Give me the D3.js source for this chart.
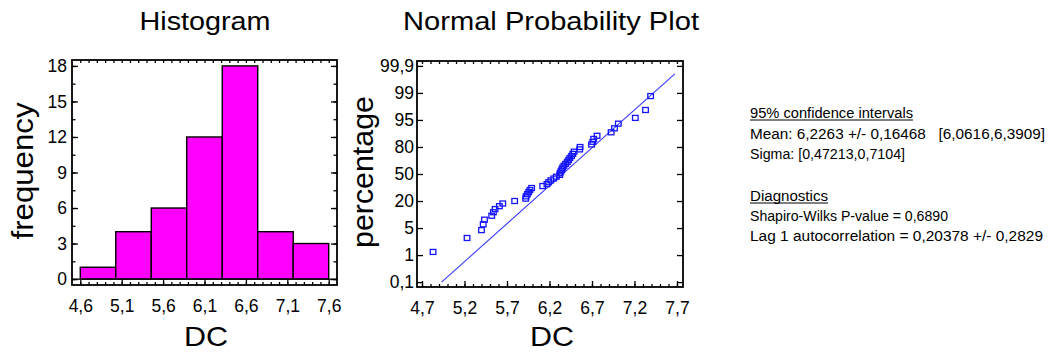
<!DOCTYPE html>
<html><head><meta charset="utf-8">
<script src="https://cdn.jsdelivr.net/npm/d3@7"></script>
<style>
body{margin:0;background:#fff}
svg{display:block}
text{font-family:"Liberation Sans",Arial,sans-serif;fill:#000}
</style>
</head><body>
<svg id="c" width="1049" height="355"></svg>
<script>
// ---------------- DATA ----------------
const binEdges   = [4.6, 5.0286, 5.4571, 5.8857, 6.3143, 6.7429, 7.1714, 7.6];
const binCounts  = [1, 4, 6, 12, 18, 4, 3];
const histXTicks = [4.6, 5.1, 5.6, 6.1, 6.6, 7.1, 7.6];
const histYTicks = [0, 3, 6, 9, 12, 15, 18];

const dcSorted = [4.83, 5.23, 5.40, 5.42, 5.435, 5.52, 5.54, 5.56, 5.61, 5.65, 5.79, 5.92,
  5.925, 5.94, 5.955, 5.97, 5.99, 6.12, 6.17, 6.19, 6.215, 6.25, 6.28, 6.32,
  6.325, 6.335, 6.345, 6.355, 6.37, 6.39, 6.41, 6.425, 6.44, 6.46, 6.475, 6.49,
  6.555, 6.56, 6.695, 6.71, 6.72, 6.76, 6.925, 6.965, 7.01, 7.21, 7.33, 7.39];
const plotPct = [1.295, 3.368, 5.440, 7.513, 9.585, 11.658, 13.731, 15.803, 17.876, 19.948, 22.021, 24.093,
  26.166, 28.238, 30.311, 32.383, 34.456, 36.528, 38.601, 40.674, 42.746, 44.819, 46.891, 48.964,
  51.036, 53.109, 55.181, 57.254, 59.326, 61.399, 63.472, 65.544, 67.617, 69.689, 71.762, 73.834,
  75.907, 77.979, 80.052, 82.124, 84.197, 86.269, 88.342, 90.415, 92.487, 94.560, 96.632, 98.705];
const fitLineDC  = [4.93, 7.675];
const fitLinePct = [0.1, 99.79];
const probXTicks = [4.7, 5.2, 5.7, 6.2, 6.7, 7.2, 7.7];
const probYTicks = [0.1, 1, 5, 20, 50, 80, 95, 99, 99.9];

const statLines = ["95% confidence intervals",
  "Mean: 6,2263 +/- 0,16468   [6,0616,6,3909]",
  "Sigma: [0,47213,0,7104]",
  "Diagnostics",
  "Shapiro-Wilks P-value = 0,6890",
  "Lag 1 autocorrelation = 0,20378 +/- 0,2829"];
const statUnderlined = [true, false, false, true, false, false];

// ---------------- HELPERS ----------------
function probit(p){
  const a=[-3.969683028665376e+01,2.209460984245205e+02,-2.759285104469687e+02,1.383577518672690e+02,-3.066479806614716e+01,2.506628277459239e+00];
  const b=[-5.447609879822406e+01,1.615858368580409e+02,-1.556989798598866e+02,6.680131188771972e+01,-1.328068155288572e+01];
  const c=[-7.784894002430293e-03,-3.223964580411365e-01,-2.400758277161838e+00,-2.549732539343734e+00,4.374664141464968e+00,2.938163982698783e+00];
  const d=[7.784695709041462e-03,3.224671290700398e-01,2.445134137142996e+00,3.754408661907416e+00];
  const pl=0.02425, ph=1-pl; let q,r;
  if(p<pl){q=Math.sqrt(-2*Math.log(p));return (((((c[0]*q+c[1])*q+c[2])*q+c[3])*q+c[4])*q+c[5])/((((d[0]*q+d[1])*q+d[2])*q+d[3])*q+1);}
  if(p<=ph){q=p-0.5;r=q*q;return (((((a[0]*r+a[1])*r+a[2])*r+a[3])*r+a[4])*r+a[5])*q/(((((b[0]*r+b[1])*r+b[2])*r+b[3])*r+b[4])*r+1);}
  q=Math.sqrt(-2*Math.log(1-p));return -(((((c[0]*q+c[1])*q+c[2])*q+c[3])*q+c[4])*q+c[5])/((((d[0]*q+d[1])*q+d[2])*q+d[3])*q+1);
}
const comma = v => String(v).replace('.', ',');
const fmt1 = v => v.toFixed(1).replace('.', ',');
const FONT = '"Liberation Sans",Arial,sans-serif';

const svg = d3.select('#c');

function styleAxis(g){
  g.attr('font-family', FONT).attr('font-size', 17.5);
  g.select('.domain').remove();
  g.selectAll('line').attr('stroke', '#000').attr('stroke-width', 1.3);
  g.selectAll('text').attr('fill', '#000');
}

// ---------------- HISTOGRAM ----------------
const H = {l:72, r:337, t:60, b:285};
const xH = d3.scaleLinear().domain([4.5, 7.7]).range([H.l, H.r]);
const yH = d3.scaleLinear().domain([-0.5, 18.5]).range([H.b, H.t]);

svg.append('g').selectAll('rect').data(binCounts).join('rect')
  .attr('x', (d,i) => xH(binEdges[i]))
  .attr('width', (d,i) => xH(binEdges[i+1]) - xH(binEdges[i]))
  .attr('y', d => yH(d))
  .attr('height', d => yH(0) - yH(d))
  .attr('fill', '#ff00ff').attr('stroke', '#000').attr('stroke-width', 1.4);

svg.append('line').attr('x1', H.l).attr('x2', H.r).attr('y1', yH(0)).attr('y2', yH(0))
  .attr('stroke', '#000').attr('stroke-width', 1.4);

const histMinorX = d3.range(46, 77).map(v => v/10);
const histMinorY = d3.range(0, 13).map(v => v*1.5);

svg.append('g').attr('transform', `translate(0,${H.b})`)
  .call(d3.axisBottom(xH).tickValues(histXTicks).tickSize(-6).tickPadding(15).tickFormat(fmt1)).call(styleAxis);
svg.append('g').attr('transform', `translate(0,${H.b})`)
  .call(d3.axisBottom(xH).tickValues(histMinorX).tickSize(-3).tickFormat('')).call(styleAxis);
svg.append('g').attr('transform', `translate(0,${H.t})`)
  .call(d3.axisTop(xH).tickValues(histMinorX).tickSize(-3).tickFormat('')).call(styleAxis);
svg.append('g').attr('transform', `translate(${H.l},0)`)
  .call(d3.axisLeft(yH).tickValues(histYTicks).tickSize(-6).tickPadding(5)).call(styleAxis);
svg.append('g').attr('transform', `translate(${H.l},0)`)
  .call(d3.axisLeft(yH).tickValues(histMinorY).tickSize(-3.5).tickFormat('')).call(styleAxis);
svg.append('g').attr('transform', `translate(${H.r},0)`)
  .call(d3.axisRight(yH).tickValues(histYTicks).tickSize(-6).tickFormat('')).call(styleAxis);
svg.append('g').attr('transform', `translate(${H.r},0)`)
  .call(d3.axisRight(yH).tickValues(histMinorY).tickSize(-3.5).tickFormat('')).call(styleAxis);

svg.append('rect').attr('x', H.l).attr('y', H.t).attr('width', H.r-H.l).attr('height', H.b-H.t)
  .attr('fill', 'none').attr('stroke', '#000').attr('stroke-width', 1.8);

// ---------------- NORMAL PROBABILITY PLOT ----------------
const P = {l:417, r:683, t:61, b:287};
const xP = d3.scaleLinear().domain([4.641, 7.771]).range([P.l, P.r]);
const yZ = d3.scaleLinear().domain([-3.23, 3.23]).range([P.b, P.t]);
const yP = pct => yZ(probit(pct/100));
const yTickScale = d3.scalePoint().domain(probYTicks).range([yP(probYTicks[0]), yP(probYTicks[probYTicks.length-1])]);

const probMinorX = d3.range(47, 78).map(v => v/10);

svg.append('g').attr('transform', `translate(0,${P.b})`)
  .call(d3.axisBottom(xP).tickValues(probXTicks).tickSize(-6).tickPadding(15).tickFormat(fmt1)).call(styleAxis);
svg.append('g').attr('transform', `translate(0,${P.b})`)
  .call(d3.axisBottom(xP).tickValues(probMinorX).tickSize(-3).tickFormat('')).call(styleAxis);
svg.append('g').attr('transform', `translate(0,${P.t})`)
  .call(d3.axisTop(xP).tickValues(probMinorX).tickSize(-3).tickFormat('')).call(styleAxis);
svg.append('g').attr('transform', `translate(${P.l},0)`)
  .call(d3.axisLeft(yTickScale).tickSize(-6).tickPadding(3).tickFormat(comma)).call(styleAxis);
svg.append('g').attr('transform', `translate(${P.r},0)`)
  .call(d3.axisRight(yTickScale).tickSize(-6).tickFormat('')).call(styleAxis);

svg.append('path')
  .datum(fitLineDC.map((d,i) => [d, fitLinePct[i]]))
  .attr('d', d3.line().x(d => xP(d[0])).y(d => yP(d[1])))
  .attr('fill', 'none').attr('stroke', '#3a3aff').attr('stroke-width', 1.1);

svg.append('g').selectAll('rect').data(dcSorted).join('rect')
  .attr('x', d => xP(d) - 2.8)
  .attr('y', (d,i) => yP(plotPct[i]) - 2.5)
  .attr('width', 5.6).attr('height', 5)
  .attr('fill', 'none').attr('stroke', '#1414ff').attr('stroke-width', 1.3);

svg.append('rect').attr('x', P.l).attr('y', P.t).attr('width', P.r-P.l).attr('height', P.b-P.t)
  .attr('fill', 'none').attr('stroke', '#000').attr('stroke-width', 1.8);

// ---------------- TITLES ----------------
function addText(txt, x, y, size, len, anchor, rot){
  const t = svg.append('text').attr('font-family', FONT).attr('font-size', size)
    .attr('text-anchor', anchor || 'middle').style('white-space', 'pre').text(txt);
  if (len) t.attr('textLength', len).attr('lengthAdjust', 'spacingAndGlyphs');
  if (rot) t.attr('transform', `translate(${x},${y}) rotate(${rot})`);
  else t.attr('x', x).attr('y', y);
  return t;
}
addText('Histogram', 205, 30, 25, 131);
addText('Normal Probability Plot', 551, 30, 25, 296);
addText('DC', 206, 346, 28, 44);
addText('DC', 552, 346, 28, 44);
addText('frequency', 33, 171, 29, 137, 'middle', -90);
addText('percentage', 373, 172, 29, 152, 'middle', -90);

// ---------------- STATS ----------------
const statY = [118, 139, 159, 201, 221, 241];
const statW = [163, 295, 155, 78, 198, 293];
statLines.forEach((s, i) => {
  addText(s, 750, statY[i], 14, statW[i], 'start');
  if (statUnderlined[i]) {
    svg.append('line').attr('x1', 750).attr('x2', 750 + statW[i])
      .attr('y1', statY[i] + 2).attr('y2', statY[i] + 2)
      .attr('stroke', '#000').attr('stroke-width', 1);
  }
});
</script>
</body></html>
